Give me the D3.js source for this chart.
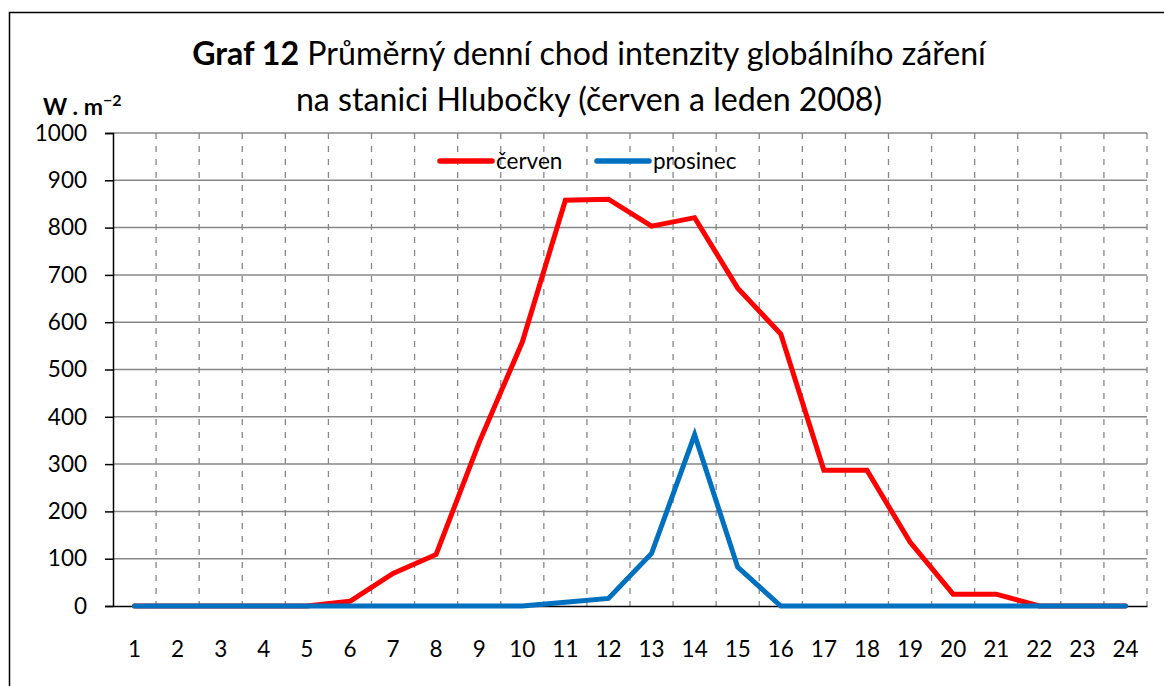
<!DOCTYPE html>
<html>
<head>
<meta charset="utf-8">
<script src="https://cdn.jsdelivr.net/npm/d3@7"></script>
<style>
html,body{margin:0;padding:0;background:#fff;}
svg{display:block;}
text{font-family:Lato,"Noto Sans","DejaVu Sans",sans-serif;fill:#000;}
</style>
</head>
<body>
<svg id="chart" width="1164" height="686"></svg>
<script>
const hours = [1,2,3,4,5,6,7,8,9,10,11,12,13,14,15,16,17,18,19,20,21,22,23,24];
const cerven = [0,0,0,0,0,10,69,109,346,558,858,860,803,821,672,575,287,287,135,25,25,0,0,0];
const prosinec = [0,0,0,0,0,0,0,0,0,0,8,16,111,362,82,0,0,0,0,0,0,0,0,0];
const yTicks = [0,100,200,300,400,500,600,700,800,900,1000];
const seriesNames = ["červen","prosinec"];
const seriesColors = ["#ff0000","#0070c0"];
const titleBold = "Graf 12";
const titleLine1 = " Průměrný denní chod intenzity globálního záření";
const titleLine2 = "na stanici Hlubočky (červen a leden 2008)";
const yUnitBase = "W . m";
const yUnitExp = "−2";

const svg = d3.select("#chart");
const L = 113, R = 1147, T = 133, B = 606;
const FS = 22.5;

// outer frame
svg.append("rect").attr("x",9.5).attr("y",12.5).attr("width",1200).attr("height",700)
  .attr("fill","none").attr("stroke","#000").attr("stroke-width",1.5);

const x = d3.scaleBand().domain(hours).range([L,R]).paddingInner(0).paddingOuter(0);
const y = d3.scaleLinear().domain([0,1000]).range([B,T]);
const cx = d => x(d) + x.bandwidth()/2;

// horizontal gridlines
svg.append("g").selectAll("line").data(yTicks.filter(v=>v>0)).join("line")
  .attr("x1",L).attr("x2",R).attr("y1",d=>y(d)).attr("y2",d=>y(d))
  .attr("stroke","#878787").attr("stroke-width",1.5);

// vertical dashed gridlines at band boundaries
svg.append("g").selectAll("line").data(hours).join("line")
  .attr("x1",d=>x(d)+x.bandwidth()).attr("x2",d=>x(d)+x.bandwidth())
  .attr("y1",T).attr("y2",B)
  .attr("stroke","#878787").attr("stroke-width",1.3).attr("stroke-dasharray","6,7");

// y axis
const yAxis = d3.axisLeft(y).tickValues(yTicks).tickSize(8).tickPadding(18).tickFormat(d3.format("d"));
const gy = svg.append("g").attr("transform",`translate(${L},0)`).call(yAxis);
gy.select(".domain").attr("stroke","#000").attr("stroke-width",1.5);
gy.selectAll(".tick line").attr("stroke","#000").attr("stroke-width",1.5);
gy.selectAll(".tick text").attr("font-size",FS).attr("font-family",null).attr("fill","#000");

// x axis (category)
const xAxis = d3.axisBottom(x).tickSize(0).tickPadding(35);
const gx = svg.append("g").attr("transform",`translate(0,${B})`).call(xAxis);
gx.select(".domain").attr("stroke","#000").attr("stroke-width",1.5);
gx.selectAll(".tick text").attr("font-size",FS).attr("font-family",null).attr("fill","#000");

// series lines
const line = d3.line().x((d,i)=>cx(hours[i])).y(d=>y(d));
[cerven, prosinec].forEach((s,k)=>{
  svg.append("path").datum(s).attr("d",line)
    .attr("fill","none").attr("stroke",seriesColors[k]).attr("stroke-width",5)
    .attr("stroke-linejoin","miter").attr("stroke-linecap","round");
});

// legend
const legX = [440, 597];
seriesNames.forEach((n,k)=>{
  svg.append("line").attr("x1",legX[k]).attr("x2",legX[k]+52).attr("y1",161).attr("y2",161)
    .attr("stroke",seriesColors[k]).attr("stroke-width",5.5).attr("stroke-linecap","round");
  svg.append("text").attr("x",legX[k]+56).attr("y",168.5).attr("font-size",FS).text(n);
});

// title
const t1 = svg.append("text").attr("text-anchor","middle").attr("x",589).attr("y",65);
t1.append("tspan").attr("font-weight","bold").text(titleBold);
t1.append("tspan").text(titleLine1);
const t2 = svg.append("text").attr("text-anchor","middle").attr("x",589).attr("y",111).text(titleLine2);
t1.attr("font-size",100);
const w = t1.node().getComputedTextLength();
const fs = 100*794/w;
t1.attr("font-size",fs);
t2.attr("font-size",fs);

// y unit label
const u = svg.append("text").attr("x",43).attr("y",115).attr("font-size",23).attr("font-weight","bold");
u.append("tspan").text(yUnitBase);
u.append("tspan").attr("font-size",16).attr("dy",-9).text(yUnitExp);
</script>
</body>
</html>
